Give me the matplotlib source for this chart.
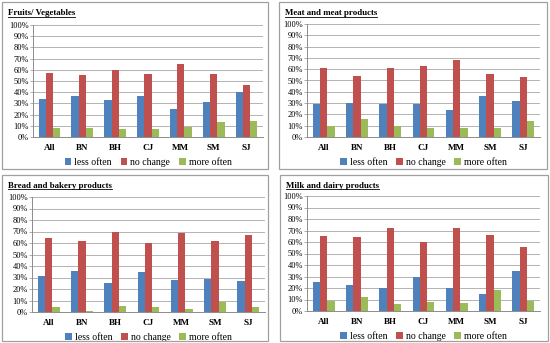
import numpy as np
import matplotlib.pyplot as plt
from matplotlib.patches import Rectangle
from matplotlib.lines import Line2D

regions = ['All', 'BN', 'BH', 'CJ', 'MM', 'SM', 'SJ']
series = ['less often', 'no change', 'more often']
colors = ['#4F81BD', '#C0504D', '#9BBB59']

fruit_less = [34, 37, 33, 37, 25, 31, 40]
fruit_same = [57, 55, 60, 56, 65, 56, 46]
fruit_more = [8, 8, 7, 7, 9, 13, 14]

meat_less = [29, 30, 29, 29, 24, 36, 32]
meat_same = [61, 54, 61, 63, 68, 56, 53]
meat_more = [10, 16, 10, 8, 8, 8, 14]

bread_less = [31, 36, 25, 35, 28, 29, 27]
bread_same = [64, 62, 70, 60, 69, 62, 67]
bread_more = [4, 1, 5, 4, 3, 9, 4]

milk_less = [25, 23, 20, 30, 20, 15, 35]
milk_same = [65, 64, 72, 60, 72, 66, 56]
milk_more = [9, 12, 6, 8, 7, 18, 9]

panels = [
    ('Fruits/ Vegetables', [fruit_less, fruit_same, fruit_more]),
    ('Meat and meat products', [meat_less, meat_same, meat_more]),
    ('Bread and bakery products', [bread_less, bread_same, bread_more]),
    ('Milk and dairy products', [milk_less, milk_same, milk_more]),
]

plt.rcParams['font.family'] = ['Liberation Serif', 'DejaVu Serif']

W, H = 550, 343
fig = plt.figure(figsize=(5.5, 3.43), dpi=100)

# panel box (x0, y0, x1, y1) and axes box in pixels, y from top
boxes = [(2, 2, 268, 169), (279, 2, 547, 169), (2, 175, 268, 341), (280, 175, 548, 341)]
axboxes = [(33, 25, 263, 137), (307, 24, 540, 137), (32, 197, 265, 312), (307, 196, 540, 311)]

def px(b):
    x0, y0, x1, y1 = b
    return [x0 / W, 1 - y1 / H, (x1 - x0) / W, (y1 - y0) / H]

x = np.arange(len(regions))
w = 0.22
for (title, data), box, axb in zip(panels, boxes, axboxes):
    l, b, bw, bh = px(box)
    fig.add_artist(Rectangle((l, b), bw, bh, transform=fig.transFigure,
                             fill=False, edgecolor='#a0a0a0', linewidth=0.9))
    ax = fig.add_axes(px(axb))
    for i, (vals, c) in enumerate(zip(data, colors)):
        ax.bar(x + (i - 1) * w, vals, w, color=c, label=series[i], zorder=3)
    ax.set_ylim(0, 100)
    ax.set_xlim(-0.5, len(regions) - 0.5)
    ax.set_yticks(np.arange(0, 101, 10))
    ax.set_yticklabels([f'{v}%' for v in range(0, 101, 10)])
    ax.set_xticks(x)
    ax.set_xticklabels(regions, fontweight='bold')
    ax.grid(axis='y', color='#a6a6a6', linewidth=0.6, zorder=0)
    for s in ['top', 'right']:
        ax.spines[s].set_visible(False)
    for s in ['left', 'bottom']:
        ax.spines[s].set_color('#8c8c8c')
        ax.spines[s].set_linewidth(0.7)
    ax.tick_params(axis='y', labelsize=6, length=2, width=0.5, color='#8c8c8c', pad=1)
    ax.tick_params(axis='x', labelsize=6.5, length=0, pad=5)
    ax.legend(loc='upper center', bbox_to_anchor=(0.5, -0.14), ncol=3, frameon=False,
              fontsize=7, handlelength=0.7, handleheight=0.7, handletextpad=0.3,
              columnspacing=0.9, borderpad=0)
    # title, underlined
    tx = (box[0] + 6) / W
    ty = 1 - (box[1] + 13) / H
    t = fig.text(tx, ty, title, fontsize=6.4, fontweight='bold', va='baseline')
    fig.canvas.draw()
    bb = t.get_window_extent().transformed(fig.transFigure.inverted())
    fig.add_artist(Line2D([bb.x0, bb.x1], [ty - 1.5 / H, ty - 1.5 / H],
                          transform=fig.transFigure, color='black', linewidth=0.6))

fig.savefig('out.png', dpi=100)
